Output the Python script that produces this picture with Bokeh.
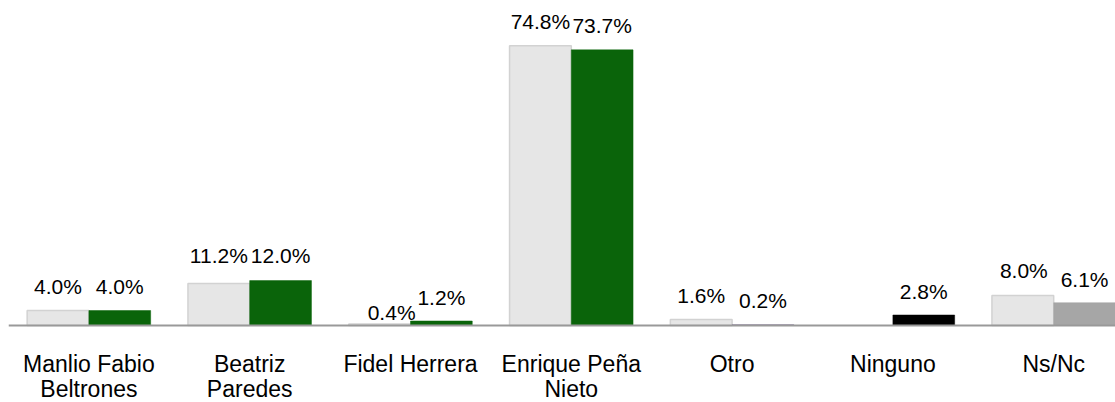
from bokeh.plotting import figure
from bokeh.models import Range1d, ColumnDataSource, Span
from bokeh.core.properties import value
from bokeh.embed import file_html
from bokeh.resources import INLINE

# ---- data ----
categories = ["Manlio Fabio\nBeltrones", "Beatriz\nParedes", "Fidel Herrera",
              "Enrique Peña\nNieto", "Otro", "Ninguno", "Ns/Nc"]
serie_a = [4.0, 11.2, 0.4, 74.8, 1.6, None, 8.0]
serie_b = [4.0, 12.0, 1.2, 73.7, 0.2, 2.8, 6.1]

# ---- style ----
GRAY = "#e6e6e6"
GRAY_LINE = "#d2d2d2"
colors_b = ["#0a640a", "#0a640a", "#0a640a", "#0a640a", "#6c5a86", "#000000", "#a6a6a6"]
# label nudges in screen px (dx right, dy up) for overlapping labels
nudge_a = [(0, 0), (0, 4), (12, -12), (0, 0), (0, 0), (0, 0), (1, 1)]
nudge_b = [(0, 0), (0, 1), (0, 0), (0, 0), (0, 0), (0, 0), (0, -1)]
BAR_W = 0.384
LABEL_GAP = 24
CAT_LABEL_OFFSET = 25
FONT = "Liberation Sans"
PX_PER_UNIT = 3.74
CAT_PX = 160.8

xa, ya, la, dxa, dya = [], [], [], [], []
for i, v in enumerate(serie_a):
    if v is None:
        continue
    xa.append(i - BAR_W / 2)
    ya.append(v)
    la.append(f"{v:.1f}%")
    dxa.append(nudge_a[i][0])
    dya.append(-(LABEL_GAP + nudge_a[i][1]))
src_a = ColumnDataSource(dict(x=xa, top=ya, label=la, dx=dxa, dy=dya))

xb, yb, lb, dxb, dyb, cb = [], [], [], [], [], []
for i, v in enumerate(serie_b):
    xb.append(i + BAR_W / 2)
    yb.append(v)
    lb.append(f"{v:.1f}%")
    dxb.append(nudge_b[i][0])
    dyb.append(-(LABEL_GAP + nudge_b[i][1]))
    cb.append(colors_b[i])
src_b = ColumnDataSource(dict(x=xb, top=yb, label=lb, dx=dxb, dy=dyb, color=cb))

cat_src = ColumnDataSource(dict(x=list(range(len(categories))),
                                y=[0] * len(categories),
                                name=categories))

FRAME_W = 1107
FRAME_H = 402
ZERO_PX = 325  # page y of the value axis baseline
p = figure(width=1115, height=402,
           x_range=Range1d(-0.5, -0.5 + FRAME_W / CAT_PX),
           y_range=Range1d(-(FRAME_H - ZERO_PX) / PX_PER_UNIT, ZERO_PX / PX_PER_UNIT),
           output_backend="svg", toolbar_location=None,
           x_axis_location=None, y_axis_location=None,
           min_border_left=8, min_border_right=0, min_border_top=0,
           min_border_bottom=0)
p.outline_line_color = None
p.grid.visible = False
p.background_fill_color = "white"
p.border_fill_color = "white"

p.vbar(x="x", top="top", bottom=0, width=BAR_W, source=src_a,
       fill_color=GRAY, line_color=GRAY_LINE, line_width=1.5)
p.vbar(x="x", top="top", bottom=0, width=BAR_W, source=src_b,
       fill_color="color", line_color="color", line_width=0.5)

# category axis line
p.add_layout(Span(location=0, dimension="width", line_color="#999999", line_width=2))

for src in (src_a, src_b):
    p.text(x="x", y="top", text="label", x_offset="dx", y_offset="dy", source=src,
           text_align="center", text_baseline="alphabetic",
           text_font=value(FONT), text_font_size="21px", text_color="#000000")

# category labels
p.text(x="x", y="y", text="name", source=cat_src, y_offset=CAT_LABEL_OFFSET,
       text_align="center", text_baseline="top",
       text_font=value(FONT), text_font_size="23px", text_color="#000000",
       text_line_height=0.97)

open("out.html", "w").write(file_html(p, INLINE))
